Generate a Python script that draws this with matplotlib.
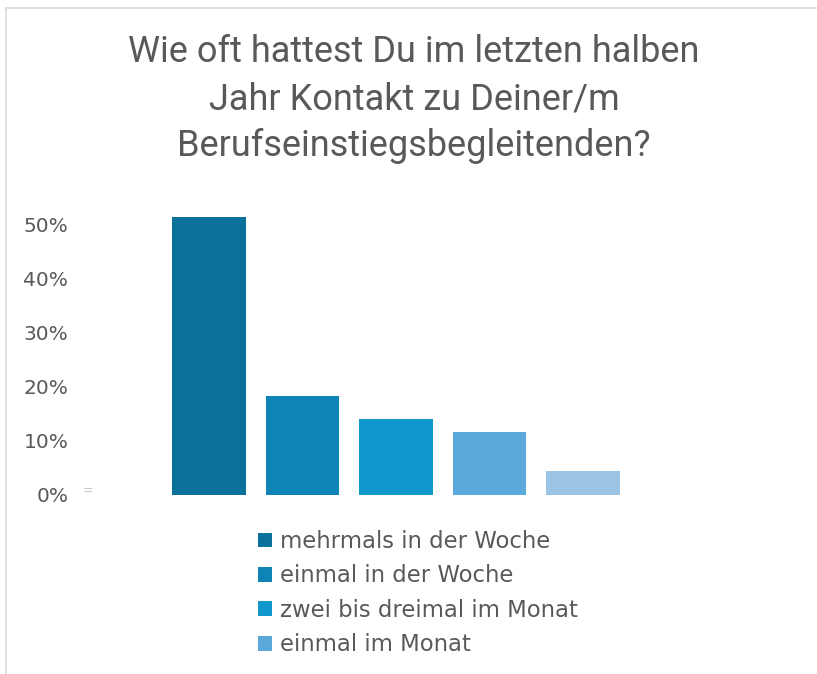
import matplotlib.pyplot as plt
from matplotlib.lines import Line2D

# Antworten (Anteil in %)
categories = ['mehrmals in der Woche', 'einmal in der Woche',
              'zwei bis dreimal im Monat', 'einmal im Monat', 'seltener']
values = [51.3, 18.3, 13.9, 11.6, 4.4]
colors = ['#0A719B', '#0D84B5', '#1098CD', '#5BA9DA', '#9AC3E4']
yticks = [0, 10, 20, 30, 40, 50]
ytick_labels = ['0%', '10%', '20%', '30%', '40%', '50%']
title = 'Wie oft hattest Du im letzten halben\nJahr Kontakt zu Deiner/m\nBerufseinstiegsbegleitenden?'

plt.rcParams['font.family'] = ['DejaVu Sans']
grey = '#595959'

W, H = 817, 674
fig = plt.figure(figsize=(W / 100, H / 100), dpi=100)

# Achsen so platzieren, dass x=0 bei ~209px und 0% bei ~494px liegt
ax = fig.add_axes([115.5 / W, (H - 494.5) / H, 561 / W, 297 / H])
x = range(len(values))
bars = ax.bar(x, values, width=0.79, color=colors)

ax.set_xlim(-1, 5)
ax.set_ylim(0, 55)
ax.set_yticks(yticks)
ax.set_yticklabels(ytick_labels)
ax.set_xticks([])
ax.tick_params(axis='y', length=0, pad=34, labelsize=14.5, labelcolor=grey)
for s in ax.spines.values():
    s.set_visible(False)

# Titel
fig.text(414 / W, (H - 34) / H, title, ha='center', va='top',
         fontsize=26, color=grey, linespacing=1.40, family=['Roboto', 'DejaVu Sans'])

# kleine Markierung links neben 0%
fig.text(88 / W, (H - 491) / H, '=', ha='center', va='center',
         fontsize=9, color='#c8c8c8')

# Legende (nur die ersten vier Einträge sind sichtbar)
ax.legend(bars[:4], categories[:4], loc='upper left',
          bbox_to_anchor=(258 / W, (H - 530) / H),
          bbox_transform=fig.transFigure, frameon=False,
          fontsize=16.4, labelcolor=grey, handlelength=0.62, handleheight=0.62,
          handletextpad=0.36, labelspacing=0.5, borderpad=0, borderaxespad=0)

# Rahmen (oben und links)
fig.add_artist(Line2D([6 / W, 1], [(H - 8) / H, (H - 8) / H],
                      transform=fig.transFigure, color='#d9d9d9', lw=1.2))
fig.add_artist(Line2D([6 / W, 6 / W], [0, (H - 8) / H],
                      transform=fig.transFigure, color='#d9d9d9', lw=1.2))

fig.savefig('out.png', dpi=100)
